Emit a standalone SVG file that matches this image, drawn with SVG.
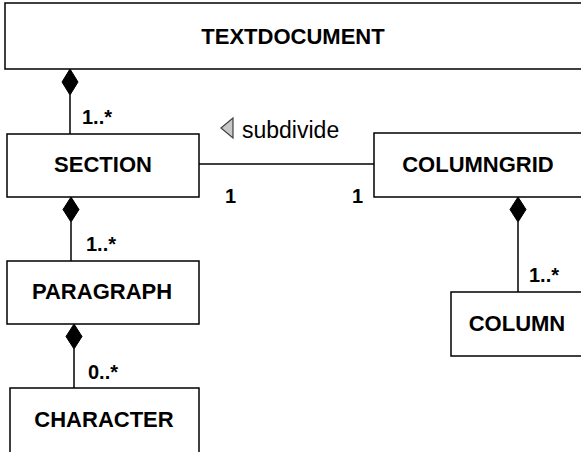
<svg xmlns="http://www.w3.org/2000/svg" width="581" height="452" viewBox="0 0 581 452">
  <defs>
    <style>
      .box { fill: #ffffff; stroke: #000000; stroke-width: 1.5; }
      .name { font-family: "Liberation Sans", Arial, sans-serif; font-size: 22px; font-weight: bold; fill: #000000; text-anchor: middle; }
      .mult { font-family: "Liberation Sans", Arial, sans-serif; font-size: 20px; font-weight: bold; fill: #000000; }
      .label { font-family: "Liberation Sans", Arial, sans-serif; font-size: 23px; fill: #000000; }
      .line { stroke: #000000; stroke-width: 1.5; fill: none; }
      .diamond { fill: #000000; stroke: #000000; stroke-width: 1; }
    </style>
  </defs>
  <rect width="581" height="452" fill="#ffffff"/>

  <!-- connectors -->
  <g id="connectors">
    <!-- TEXTDOCUMENT ◆— SECTION -->
    <line class="line" x1="70" y1="95" x2="70" y2="134"/>
    <path class="diamond" d="M70,69 L78,82 L70,95 L62,82 Z"/>
    <text class="mult" x="82" y="124">1..*</text>
    <!-- SECTION — COLUMNGRID (subdivide) -->
    <line class="line" x1="199" y1="164" x2="374" y2="164"/>
    <text class="mult" x="225" y="203">1</text>
    <text class="mult" x="352" y="203">1</text>
    <path d="M233,118 L221,128 L233,138 Z" fill="#c8c8c8" stroke="#404040" stroke-width="1.2"/>
    <text class="label" x="242" y="138">subdivide</text>
    <!-- SECTION ◆— PARAGRAPH -->
    <line class="line" x1="71" y1="222" x2="71" y2="261"/>
    <path class="diamond" d="M71,197 L79,209.5 L71,222 L63,209.5 Z"/>
    <text class="mult" x="86" y="251">1..*</text>
    <!-- PARAGRAPH ◆— CHARACTER -->
    <line class="line" x1="74" y1="349" x2="74" y2="388"/>
    <path class="diamond" d="M74,324 L82,336.5 L74,349 L66,336.5 Z"/>
    <text class="mult" x="88" y="379">0..*</text>
    <!-- COLUMNGRID ◆— COLUMN -->
    <line class="line" x1="518" y1="222" x2="518" y2="292"/>
    <path class="diamond" d="M518,197 L526,209.5 L518,222 L510,209.5 Z"/>
    <text class="mult" x="529" y="282">1..*</text>
  </g>

  <g id="textdocument">
    <rect class="box" x="5" y="3" width="590" height="66"/>
    <text class="name" x="293" y="44">TEXTDOCUMENT</text>
  </g>
  <g id="section">
    <rect class="box" x="7" y="134" width="192" height="63"/>
    <text class="name" x="103" y="172">SECTION</text>
  </g>
  <g id="columngrid">
    <rect class="box" x="374" y="133" width="220" height="64"/>
    <text class="name" x="478" y="172">COLUMNGRID</text>
  </g>
  <g id="paragraph">
    <rect class="box" x="7" y="261" width="192" height="63"/>
    <text class="name" x="102" y="299">PARAGRAPH</text>
  </g>
  <g id="column">
    <rect class="box" x="451" y="292" width="140" height="64"/>
    <text class="name" x="517" y="331">COLUMN</text>
  </g>
  <g id="character">
    <rect class="box" x="10" y="388" width="189" height="70"/>
    <text class="name" x="104" y="427">CHARACTER</text>
  </g>
</svg>
